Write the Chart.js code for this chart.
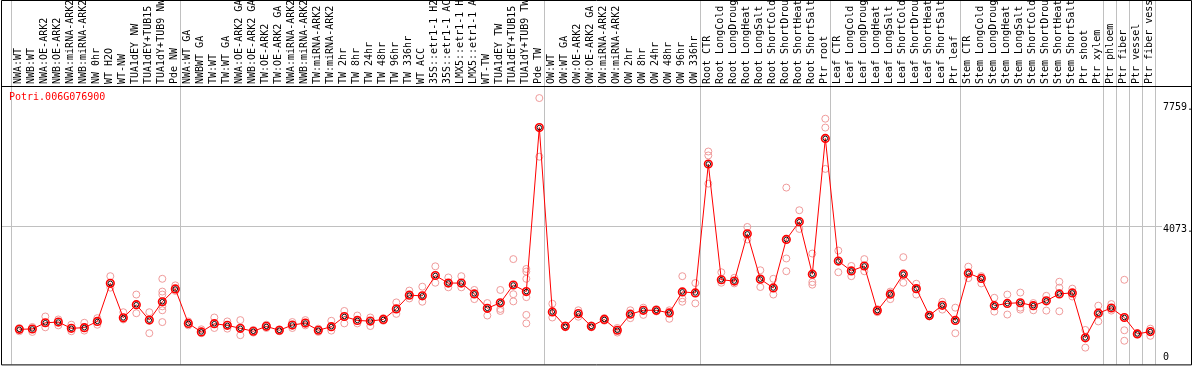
<!DOCTYPE html>
<html>
<head>
<meta charset="utf-8">
<script src="https://cdn.jsdelivr.net/npm/chart.js@4/dist/chart.umd.min.js"></script>
<style>
  html, body { margin: 0; padding: 0; background: #fff; }
  canvas { display: block; }
</style>
</head>
<body>
<canvas id="chart" width="1194" height="370"></canvas>
<script>
const geneName = 'Potri.006G076900';

const categories = [
  'NWA:WT', 'NWB:WT', 'NWA:OE-ARK2', 'NWB:OE-ARK2', 'NWA:miRNA-ARK2', 'NWB:miRNA-ARK2', 'NW 0hr', 'WT H2O',
  'WT-NW', 'TUA1dEY NW', 'TUA1dEY+TUB15 NW', 'TUA1dY+TUB9 NW', 'Pde NW',
  'NWA:WT GA', 'NWBWT GA', 'TW:WT', 'TW:WT GA', 'NWA:OE-ARK2 GA', 'NWB:OE-ARK2 GA', 'TW:OE-ARK2', 'TW:OE-ARK2 GA',
  'NWA:miRNA-ARK2 GA', 'NWB:miRNA-ARK2 GA', 'TW:miRNA-ARK2', 'TW:miRNA-ARK2 GA', 'TW 2hr', 'TW 8hr', 'TW 24hr',
  'TW 48hr', 'TW 96hr', 'TW 336hr', 'WT ACC', '35S::etr1-1 H2O', '35S::etr1-1 ACC', 'LMX5::etr1-1 H2O',
  'LMX5::etr1-1 ACC', 'WT-TW', 'TUA1dEY TW', 'TUA1dEY+TUB15 TW', 'TUA1dY+TUB9 TW', 'Pde TW',
  'OW:WT', 'OW:WT GA', 'OW:OE-ARK2', 'OW:OE-ARK2 GA', 'OW:miRNA-ARK2', 'OW:miRNA-ARK2 GA', 'OW 2hr', 'OW 8hr',
  'OW 24hr', 'OW 48hr', 'OW 96hr', 'OW 336hr',
  'Root CTR', 'Root LongCold', 'Root LongDrought', 'Root LongHeat', 'Root LongSalt', 'Root ShortCold',
  'Root ShortDrought', 'Root ShortHeat', 'Root ShortSalt', 'Ptr root',
  'Leaf CTR', 'Leaf LongCold', 'Leaf LongDrought', 'Leaf LongHeat', 'Leaf LongSalt', 'Leaf ShortCold',
  'Leaf ShortDrought', 'Leaf ShortHeat', 'Leaf ShortSalt', 'Ptr leaf',
  'Stem CTR', 'Stem LongCold', 'Stem LongDrought', 'Stem LongHeat', 'Stem LongSalt', 'Stem ShortCold',
  'Stem ShortDrought', 'Stem ShortHeat', 'Stem ShortSalt', 'Ptr shoot', 'Ptr xylem',
  'Ptr phloem', 'Ptr fiber', 'Ptr vessel', 'Ptr fiber vessel'
];

// index of the first sample in each block (last entry = end)
const groupStarts = [0, 13, 41, 53, 63, 73, 84, 85, 86, 87, 88];

const means = [
  950, 960, 1148, 1168, 980, 1000, 1188, 2338, 1297, 1693, 1228, 1783, 2169,
  1129, 871, 1119, 1069, 980, 891, 1039, 921, 1079, 1139, 921, 1030, 1337, 1218, 1198, 1248,
  1565, 1981, 1961, 2575, 2347, 2347, 2020, 1584, 1753, 2288, 2090, 7044,
  1475, 1039, 1426, 1039, 1248, 921, 1406, 1525, 1525, 1446, 2080, 2050,
  5944, 2447, 2407, 3834, 2466, 2199, 3665, 4200, 2615, 6717,
  3011, 2714, 2863, 1515, 2011, 2615, 2179, 1366, 1674, 1218,
  2645, 2486, 1664, 1733, 1753, 1664, 1812, 2020, 2050, 693, 1436,
  1594, 1307, 812, 881
];

const replicates = [
  [990, 891], [1020, 871], [1337, 1010], [1248, 1069], [1089, 891], [1148, 911], [1287, 1089],
  [2555, 2208], [1466, 1248], [2000, 1436], [1466, 832], [2476, 2090, 2000, 1644, 1525, 1168], [2278, 2110],
  [1188, 1070], [950, 832], [1307, 990], [1188, 970], [1228, 772], [931, 850], [1089, 990], [950, 890],
  [990, 1170], [1228, 1069], [970, 871], [1208, 911], [1505, 1129], [1366, 1129], [1307, 1049], [1287, 1208],
  [1763, 1416], [2120, 1882], [2238, 1783], [2853, 2357], [2516, 2218], [2555, 2218], [2139, 1862],
  [1743, 1366], [2139, 1565, 1505], [3071, 2011, 1793], [2773, 2694, 2476, 1921, 1386, 1129], [7936, 6164],
  [1723, 1307], [1069, 1010], [1525, 1330], [1069, 1010], [1290, 1210], [851, 990], [1525, 1287],
  [1604, 1386], [1560, 1490], [1525, 1268], [2555, 1882, 1783], [2347, 1733],
  [6321, 6202, 5350], [2674, 2357], [2506, 2337], [4042, 3665], [2734, 2228], [2476, 2000],
  [5231, 3090, 2704], [4547, 3982], [3239, 2377, 2298], [7312, 7044, 5796],
  [3328, 2674], [2863, 2555], [3071, 2704], [1466, 1560], [2090, 1862], [3130, 2357], [2327, 2000],
  [1396, 1340], [1783, 1545], [1604, 832],
  [2843, 2496], [2555, 2337], [1902, 1485], [2000, 1396], [2060, 1604, 1545], [1743, 1525],
  [1961, 1515], [2387, 2208, 1495], [2179, 1941], [931, 396], [1664, 1188],
  [1713, 1515], [2446, 921, 604], [832, 800], [970, 753]
];

const yTickValues = [0, 4073, 7759];
const yTickLabels = ['0', '4073.', '7759.'];

// marks sit slightly right of each column's centre in the original
const markShift = 0.14;

const meanPoints = means.map((v, i) => ({ x: i, y: v }));
const repPoints = replicates.flatMap((vals, i) => vals.map(v => ({ x: i, y: v })));

const monoFont = '10px "DejaVu Sans Mono", monospace';

const framePlugin = {
  id: 'frame',
  beforeDraw(chart) {
    const { ctx, scales: { x, y }, chartArea } = chart;
    ctx.save();
    ctx.fillStyle = '#fff';
    ctx.fillRect(0, 0, chart.width, chart.height);
    ctx.strokeStyle = '#c0c0c0';
    ctx.lineWidth = 1;
    // block separators
    groupStarts.forEach(k => {
      const px = Math.round(x.getPixelForValue(k - 0.5 - markShift)) + 0.5;
      ctx.beginPath();
      ctx.moveTo(px, 0);
      ctx.lineTo(px, chartArea.bottom);
      ctx.stroke();
    });
    // middle reference line
    const gy = Math.round(y.getPixelForValue(yTickValues[1])) + 0.5;
    ctx.beginPath();
    ctx.moveTo(2, gy);
    ctx.lineTo(chartArea.right + 7, gy);
    ctx.stroke();
    ctx.restore();
  },
  afterDraw(chart) {
    const { ctx, scales: { y }, chartArea } = chart;
    ctx.save();
    ctx.strokeStyle = '#000';
    ctx.lineWidth = 1;
    ctx.beginPath();
    ctx.moveTo(1.5, 0.5);
    ctx.lineTo(1191.5, 0.5);
    ctx.lineTo(1191.5, chartArea.bottom + 0.5);
    ctx.lineTo(1.5, chartArea.bottom + 0.5);
    ctx.closePath();
    ctx.moveTo(1.5, chartArea.top + 0.5);
    ctx.lineTo(1191.5, chartArea.top + 0.5);
    ctx.stroke();

    ctx.font = monoFont;
    ctx.textBaseline = 'middle';
    ctx.textAlign = 'left';
    ctx.fillStyle = '#000';
    yTickValues.forEach((v, i) => {
      let py = y.getPixelForValue(v) + 3.5;
      py = Math.min(py, chartArea.bottom - 7);
      ctx.fillText(yTickLabels[i], chartArea.right + 8, py);
    });

    ctx.fillStyle = '#ff0000';
    ctx.fillText(geneName, 9, chartArea.top + 11);
    ctx.restore();
  }
};

new Chart(document.getElementById('chart'), {
  type: 'line',
  data: {
    datasets: [
      {
        data: meanPoints,
        showLine: false,
        pointRadius: 2.3,
        pointBorderWidth: 0.9,
        pointBorderColor: '#000',
        pointBackgroundColor: 'rgba(0,0,0,0)',
        order: 0
      },
      {
        data: meanPoints,
        borderColor: '#ff0000',
        borderWidth: 1,
        tension: 0,
        pointRadius: 3.8,
        pointBorderWidth: 1.6,
        pointBorderColor: '#ff0000',
        pointBackgroundColor: 'rgba(255,255,255,0)',
        order: 1
      },
      {
        data: repPoints,
        showLine: false,
        pointRadius: 3.5,
        pointBorderWidth: 1,
        pointBorderColor: 'rgb(240,155,155)',
        pointBackgroundColor: 'rgba(0,0,0,0)',
        order: 2
      }
    ]
  },
  options: {
    responsive: false,
    animation: false,
    events: [],
    layout: { padding: { left: 11, right: 39, top: 0, bottom: 1 } },
    plugins: { legend: { display: false }, tooltip: { enabled: false } },
    scales: {
      x: {
        type: 'linear',
        position: 'top',
        min: -0.5 - markShift,
        max: categories.length - 0.5 - markShift,
        afterBuildTicks: s => { s.ticks = categories.map((_, i) => ({ value: i })); },
        afterFit: s => { s.height = 86; },
        grid: { display: false, drawTicks: false },
        border: { display: false },
        ticks: {
          autoSkip: false,
          minRotation: 90,
          maxRotation: 90,
          padding: 2,
          labelOffset: 11.2,
          color: '#000',
          font: { family: '"DejaVu Sans Mono", monospace', size: 10 },
          callback: v => categories[Math.round(v)]
        }
      },
      y: {
        display: false,
        min: -110,
        max: 8300
      }
    }
  },
  plugins: [framePlugin]
});
</script>
</body>
</html>
